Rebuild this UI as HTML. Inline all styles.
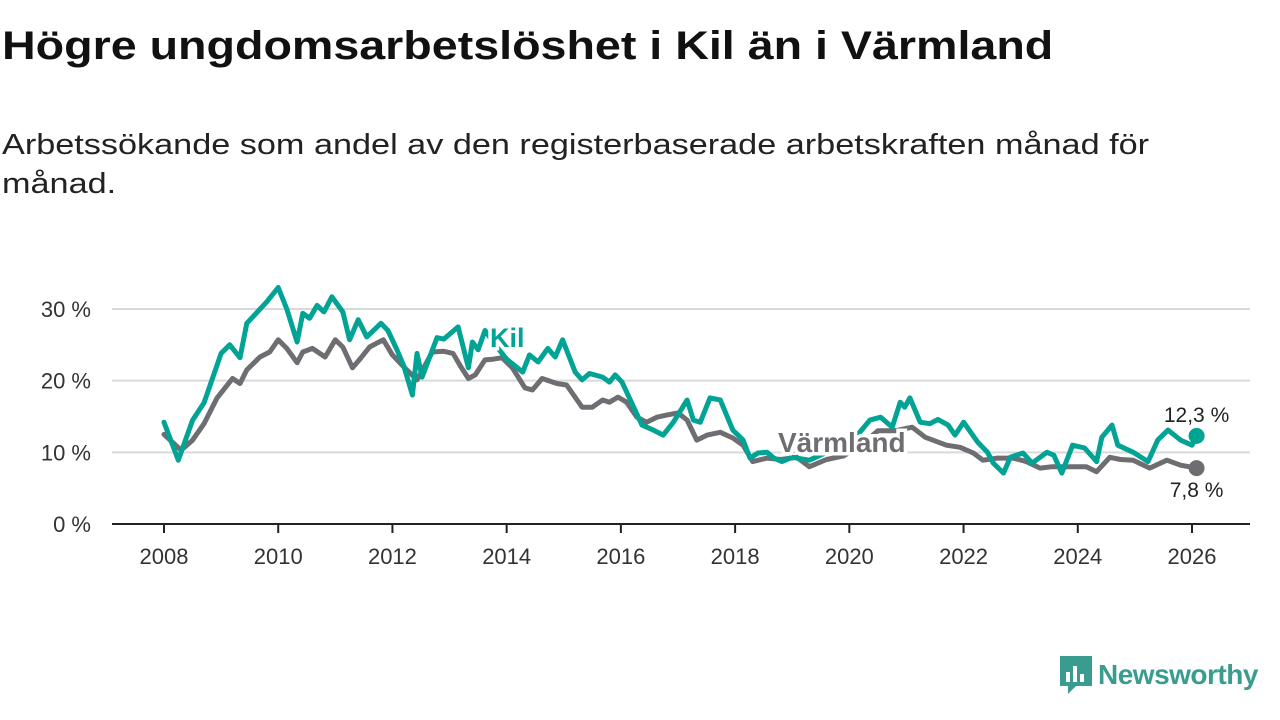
<!DOCTYPE html>
<html><head><meta charset="utf-8">
<style>
body{margin:0;width:1280px;height:720px;background:#fff;overflow:hidden;font-family:"Liberation Sans",sans-serif;}
#title{position:absolute;left:2px;top:24px;font-size:40px;font-weight:bold;color:#111;margin:0;transform:scaleX(1.165);transform-origin:left top;white-space:nowrap}
#sub{position:absolute;left:2px;top:126px;font-size:29px;color:#222;line-height:39px;width:1000px;transform:scaleX(1.18);transform-origin:left top}
svg{position:absolute;left:0;top:0}
</style></head><body>
<h1 id="title">Högre ungdomsarbetslöshet i Kil än i Värmland</h1>
<div id="sub">Arbetssökande som andel av den registerbaserade arbetskraften månad för månad.</div>
<svg id="chart" width="1280" height="720"></svg>
<script>
const yTicks=[0,10,20,30];
const yTickLabels=["0 %","10 %","20 %","30 %"];
const xTicks=[2008,2010,2012,2014,2016,2018,2020,2022,2024,2026];
const kilYears=[2008.0,2008.25,2008.5,2008.7,2009.0,2009.15,2009.33,2009.45,2009.8,2010.0,2010.15,2010.33,2010.43,2010.55,2010.68,2010.8,2010.94,2011.13,2011.25,2011.4,2011.55,2011.8,2011.92,2012.08,2012.2,2012.35,2012.43,2012.52,2012.78,2012.9,2013.15,2013.33,2013.4,2013.5,2013.62,2013.8,2014.0,2014.28,2014.4,2014.55,2014.72,2014.85,2014.98,2015.2,2015.32,2015.45,2015.68,2015.8,2015.9,2016.02,2016.37,2016.57,2016.74,2016.92,2017.16,2017.27,2017.39,2017.56,2017.74,2017.96,2018.14,2018.26,2018.4,2018.56,2018.68,2018.82,2019.0,2019.3,2019.6,2019.9,2020.1,2020.36,2020.55,2020.75,2020.89,2020.97,2021.06,2021.24,2021.41,2021.55,2021.73,2021.85,2022.0,2022.25,2022.42,2022.52,2022.7,2022.82,2023.04,2023.2,2023.46,2023.58,2023.72,2023.91,2024.12,2024.33,2024.42,2024.6,2024.7,2024.97,2025.23,2025.4,2025.58,2025.8,2026.0,2026.08];
const kilValues=[14.2,8.9,14.5,16.9,23.8,25,23.2,28,31,33,30,25.4,29.4,28.7,30.5,29.6,31.7,29.6,25.7,28.5,26.1,28,27,24.3,22,18,23.8,20.5,26,25.8,27.5,21.8,25.4,24.3,27,25,23,21.2,23.6,22.6,24.5,23.3,25.7,21.2,20.1,21,20.5,19.8,20.8,19.8,13.8,13.1,12.4,14.2,17.3,14.5,14.2,17.6,17.3,13.1,11.7,9.2,9.9,10,9.2,8.7,9.3,8.9,10,11,12,14.5,14.9,13.5,17,16.3,17.6,14.2,14,14.6,13.8,12.4,14.2,11.4,10,8.5,7.1,9.3,9.9,8.5,10,9.6,7.1,11,10.6,8.7,12.1,13.8,11,10,8.7,11.7,13.1,11.7,11,12.3];
const varYears=[2008.0,2008.3,2008.5,2008.7,2008.93,2009.2,2009.33,2009.45,2009.68,2009.85,2010.0,2010.15,2010.33,2010.43,2010.6,2010.82,2011.0,2011.13,2011.3,2011.42,2011.6,2011.84,2012.0,2012.2,2012.43,2012.7,2012.9,2013.06,2013.2,2013.33,2013.45,2013.62,2013.76,2013.92,2014.1,2014.32,2014.45,2014.62,2014.88,2015.05,2015.32,2015.5,2015.68,2015.8,2015.95,2016.1,2016.28,2016.45,2016.63,2016.8,2017.0,2017.16,2017.33,2017.51,2017.74,2017.96,2018.14,2018.31,2018.56,2018.8,2019.08,2019.3,2019.6,2019.9,2020.2,2020.5,2020.8,2021.1,2021.33,2021.7,2021.94,2022.17,2022.34,2022.59,2022.87,2023.1,2023.34,2023.55,2023.86,2024.15,2024.33,2024.56,2024.75,2024.97,2025.26,2025.56,2025.8,2026.08];
const varValues=[12.5,10.3,11.7,14,17.6,20.3,19.6,21.5,23.3,24,25.7,24.5,22.5,24,24.5,23.3,25.7,24.7,21.8,22.9,24.7,25.7,23.6,21.9,20.1,24,24.1,23.8,21.9,20.3,20.8,22.9,23,23.2,21.8,19,18.7,20.3,19.6,19.4,16.3,16.3,17.3,17,17.7,17,14.9,14.2,14.9,15.2,15.5,14.5,11.7,12.4,12.8,12,11,8.7,9.2,9,9.3,8,9,9.5,11,13,13,13.5,12.1,11,10.7,9.9,8.9,9.2,9.2,8.7,7.8,8,8,8,7.3,9.3,9,8.9,7.8,8.9,8.2,7.8];

const svg=document.getElementById('chart');const NS='http://www.w3.org/2000/svg';
const x=v=>164+(v-2008)*(1192-164)/18;
const y=v=>524-v*7.167;
function mk(t,a,p){const e=document.createElementNS(NS,t);for(const k in a)e.setAttribute(k,a[k]);(p||svg).appendChild(e);return e;}
yTicks.forEach((t,i)=>{
  if(t>0){const g=mk('line',{x1:112,x2:1250,y1:y(t),y2:y(t),stroke:'#d9d9d9','stroke-width':2});
  
  }
  const l=mk('text',{x:91,y:y(t)+8,'text-anchor':'end','font-size':22,fill:'#333'});l.textContent=yTickLabels[i];
  
  
});
const ax=mk('line',{x1:112,x2:1250,y1:524,y2:524,stroke:'#222','stroke-width':2});


xTicks.forEach(t=>{
  const tk=mk('line',{x1:x(t),x2:x(t),y1:524,y2:533,stroke:'#222','stroke-width':2});
  
  
  const l=mk('text',{x:x(t),y:564,'text-anchor':'middle','font-size':22,fill:'#333'});l.textContent=t;
  
  
});
function line(xs,vs,c,name){
  const d=xs.map((v,i)=>(i?'L':'M')+x(v).toFixed(1)+','+y(vs[i]).toFixed(1)).join('');
  const p=mk('path',{d:d,fill:'none',stroke:c,'stroke-width':5,'stroke-linejoin':'round','stroke-linecap':'round'});
  
  
  const n=xs.length-1;
  const c2=mk('circle',{cx:x(xs[n]),cy:y(vs[n]),r:8,fill:c});
  
  
}
line(varYears,varValues,'#6e6d72','varmland-line');
line(kilYears,kilValues,'#00a394','kil-line');
function lab(txt,xx,yy,c,fs,bold,name,anchor){
  const t=mk('text',{x:xx,y:yy,fill:c,'font-size':fs,'font-weight':bold?'bold':'normal',stroke:'#fff','stroke-width':bold?7:5,'paint-order':'stroke','text-anchor':anchor||'start'});
  t.textContent=txt;
  
  
}
lab('Kil',490,347,'#00a394',27,true,'kil-label');
lab('Värmland',778,452,'#6e6d72',28,true,'varmland-label');
lab('12,3 %',x(kilYears[kilYears.length-1]),y(kilValues[kilValues.length-1])-14,'#222',21,false,'kil-end-value','middle');
lab('7,8 %',x(varYears[varYears.length-1]),y(varValues[varValues.length-1])+29,'#222',21,false,'varmland-end-value','middle');
</script>
<div style="position:absolute;left:1058px;top:654px;display:flex;align-items:center">
<svg width="36" height="42" viewBox="0 0 36 42" style="position:static"><path d="M2 2h32v30H18l-8 8v-8H2z" fill="#3a9c8f"/><rect x="8" y="18" width="4" height="10" fill="#fff"/><rect x="15" y="12" width="4" height="16" fill="#fff"/><rect x="22" y="20" width="4" height="8" fill="#fff"/></svg>
<span style="font-size:28px;color:#3a9c8f;margin-left:4px;font-weight:bold;letter-spacing:-0.5px">Newsworthy</span></div>
</body></html>
